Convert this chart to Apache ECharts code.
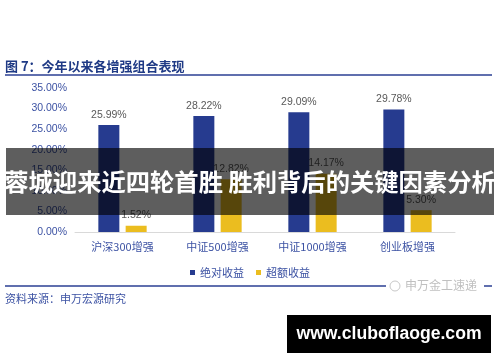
<!DOCTYPE html>
<html>
<head>
<meta charset="utf-8">
<script src="https://cdn.jsdelivr.net/npm/echarts@6/dist/echarts.min.js"></script>
<style>
html,body{margin:0;padding:0;background:#fff;}
#c{width:500px;height:362px;}
</style>
</head>
<body>
<div id="c"></div>
<script>
var categories = ['沪深300增强', '中证500增强', '中证1000增强', '创业板增强'];
var absReturn = [25.99, 28.22, 29.09, 29.78];
var excessReturn = [1.52, 12.82, 14.17, 5.30];
var seriesNames = ['绝对收益', '超额收益'];
var titleText = '图 7：今年以来各增强组合表现';
var sourceText = '资料来源：申万宏源研究';
var bannerText = '蓉城迎来近四轮首胜 胜利背后的关键因素分析';
var siteText = 'www.cluboflaoge.com';
var watermarkText = '申万金工速递';

var cjk = '"Noto Sans CJK SC", "Liberation Sans", sans-serif';
var lat = '"Liberation Sans", "Noto Sans CJK SC", sans-serif';

var chart = echarts.init(document.getElementById('c'));
chart.setOption({
  animation: false,
  backgroundColor: '#ffffff',
  grid: {left: 75, right: 45, top: 88, bottom: 130},
  legend: {
    data: seriesNames,
    top: 262, left: 'center',
    itemWidth: 5, itemHeight: 5, itemGap: 12,
    icon: 'rect',
    textStyle: {fontFamily: cjk, fontSize: 11, color: '#3c52a3'}
  },
  xAxis: {
    type: 'category', data: categories,
    axisLine: {lineStyle: {color: '#d9d9d9', width: 1}},
    axisTick: {show: false},
    axisLabel: {fontFamily: cjk, fontSize: 11, color: '#3c52a3', margin: 9}
  },
  yAxis: {
    type: 'value', min: 0, max: 35, interval: 5,
    axisLine: {show: false}, axisTick: {show: false},
    splitLine: {show: false},
    axisLabel: {fontFamily: lat, fontSize: 10.5, color: '#3c52a3', margin: 8,
      formatter: function(v){ return v.toFixed(2) + '%'; }}
  },
  series: [
    {
      name: seriesNames[0], type: 'bar', data: absReturn,
      barWidth: 21, barGap: '30%',
      itemStyle: {color: '#263b8f'},
      label: {show: true, position: 'top', distance: 5, fontFamily: lat, fontSize: 10.5, color: '#595959',
        formatter: function(p){ return p.value.toFixed(2) + '%'; }}
    },
    {
      name: seriesNames[1], type: 'bar', data: excessReturn,
      barWidth: 21,
      itemStyle: {color: '#ebbd1f'},
      label: {show: true, position: 'top', distance: 5, fontFamily: lat, fontSize: 10.5, color: '#595959',
        formatter: function(p){ return p.value.toFixed(2) + '%'; }}
    }
  ],
  graphic: [
    {type: 'text', left: 5, top: 60, z: 100,
      style: {text: titleText, font: 'bold 13px ' + cjk, fill: '#1f3a85'}},
    {type: 'line', z: 100, shape: {x1: 5, y1: 75, x2: 492, y2: 75},
      style: {stroke: '#2b3f93', lineWidth: 1.5}},
    {type: 'line', z: 100, shape: {x1: 5, y1: 286, x2: 492, y2: 286},
      style: {stroke: '#2b3f93', lineWidth: 1.5}},
    {type: 'rect', z: 101, shape: {x: 386, y: 279, width: 98, height: 14},
      style: {fill: '#ffffff'}},
    {type: 'circle', z: 102, shape: {cx: 395, cy: 286, r: 5},
      style: {fill: 'none', stroke: '#c8c8c8', lineWidth: 1}},
    {type: 'text', z: 102, left: 405, top: 279,
      style: {text: watermarkText, font: '12px ' + cjk, fill: '#c0c0c0'}},
    {type: 'text', left: 5, top: 293, z: 100,
      style: {text: sourceText, font: '11px ' + cjk, fill: '#3c52a3'}},
    {type: 'rect', z: 200, shape: {x: 6, y: 148, width: 488, height: 67},
      style: {fill: 'rgba(0,0,0,0.63)'}},
    {type: 'text', z: 201, x: 250, y: 182,
      style: {text: bannerText, font: 'bold 24.3px ' + cjk, fill: '#ffffff', align: 'center', verticalAlign: 'middle'}},
    {type: 'rect', z: 200, shape: {x: 287, y: 315, width: 204, height: 38},
      style: {fill: '#000000'}},
    {type: 'text', z: 201, x: 389, y: 334,
      style: {text: siteText, font: 'bold 17.6px ' + lat, fill: '#ffffff', align: 'center', verticalAlign: 'middle'}}
  ]
});
</script>
</body>
</html>
